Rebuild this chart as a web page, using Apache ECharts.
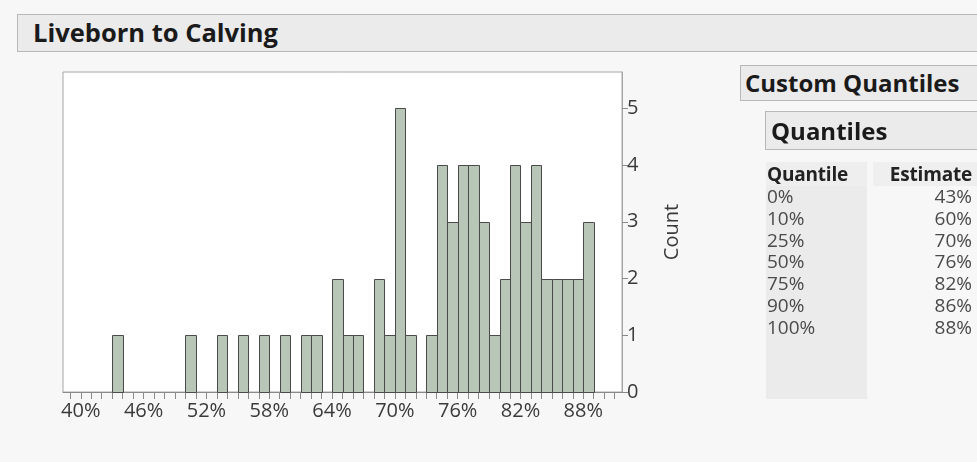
<!DOCTYPE html>
<html>
<head>
<meta charset="utf-8">
<script src="https://cdn.jsdelivr.net/npm/echarts@6/dist/echarts.min.js"></script>
<style>
  html, body { margin: 0; padding: 0; }
  body { width: 977px; height: 462px; background: #f7f7f7; position: relative; overflow: hidden;
         font-family: "Open Sans", "Noto Sans", sans-serif; color: #1a1a1a; }
  .bar-head { position: absolute; background: #ebebeb; border: 1px solid #b8b8b8; box-sizing: border-box;
              font-weight: 700; font-size: 24px; line-height: 1; display: flex; align-items: center; padding-left: 6px; }
  #chart { position: absolute; left: 0; top: 0; width: 977px; height: 462px; }
  #qtable { position: absolute; left: 766px; top: 162px; border-collapse: collapse; font-size: 19px; }
  #qtable th { font-weight: 700; text-align: left; height: 24px; line-height: 24px; padding: 0 0 0 1px; color: #222;
               letter-spacing: -0.2px; }
  #qtable td { height: 21.8px; line-height: 21.8px; padding: 0 0 0 1px; color: #4a4a4a; }
  #qtable .c1 { width: 102px; background: #ebebeb; }
  #qtable .gap { width: 6px; padding: 0; background: transparent; }
  #qtable .c2 { width: 100px; text-align: right; padding-right: 5px; }
  #qtable th.c1 { background: #eeeeee; }
  #qtable th.c2 { text-align: right; background: #efefef; }
  #qtable td.c2 { background: transparent; }
</style>
</head>
<body>
<div class="bar-head" id="title" style="left:17px;top:14px;width:980px;height:38px;padding-left:15px;font-size:25.5px;"></div>
<div id="chart"></div>
<div class="bar-head" id="custom" style="left:740px;top:65px;width:260px;height:36px;padding-left:4px;"></div>
<div class="bar-head" id="quant" style="left:765px;top:111px;width:240px;height:39px;padding-left:5px;"></div>
<table id="qtable"></table>
<script>
// Histogram of liveborn-to-calving rates, one-percent bins
const binStarts = [43, 44, 45, 46, 47, 48, 49, 50, 51, 52, 53, 54, 55, 56, 57, 58, 59, 60, 61, 62, 63,
                   64, 65, 66, 67, 68, 69, 70, 71, 72, 73, 74, 75, 76, 77, 78, 79, 80, 81, 82, 83, 84,
                   85, 86, 87, 88];
const counts    = [1, 0, 0, 0, 0, 0, 0, 1, 0, 0, 1, 0, 1, 0, 1, 0, 1, 0, 1, 1, 0,
                   2, 1, 1, 0, 2, 1, 5, 1, 0, 1, 4, 3, 4, 4, 3, 1, 2, 4, 3, 4, 2,
                   2, 2, 2, 3];
const binWidth = 1;

const xTickLabels = [40, 46, 52, 58, 64, 70, 76, 82, 88];
const xMinorTicks = [39, 40, 41, 42, 43, 44, 45, 46, 47, 48, 49, 50, 51, 52, 53, 54, 55, 56, 57, 58, 59,
                     60, 61, 62, 63, 64, 65, 66, 67, 68, 69, 70, 71, 72, 73, 74, 75, 76, 77, 78, 79, 80,
                     81, 82, 83, 84, 85, 86, 87, 88, 89, 90, 91];
const yTickLabels = [0, 1, 2, 3, 4, 5];

// Quantile summary table
const quantileLevels = ["0%", "10%", "25%", "50%", "75%", "90%", "100%"];
const quantileEstimates = ["43%", "60%", "70%", "76%", "82%", "86%", "88%"];

document.getElementById('title').textContent = 'Liveborn to Calving';
document.getElementById('custom').textContent = 'Custom Quantiles';
document.getElementById('quant').textContent = 'Quantiles';

const tbl = document.getElementById('qtable');
let html = '<tr><th class="c1">Quantile</th><th class="gap"></th><th class="c2">Estimate</th></tr>';
quantileLevels.forEach((q, i) => {
  html += '<tr><td class="c1">' + q + '</td><td class="gap"></td><td class="c2">' + quantileEstimates[i] + '</td></tr>';
});
html += '<tr><td class="c1" style="height:60px"></td><td class="gap"></td><td class="c2" style="height:60px"></td></tr>';
tbl.innerHTML = html;

const bins = binStarts.map((s, i) => [s, s + binWidth, counts[i]]).filter(d => d[2] > 0);

const chart = echarts.init(document.getElementById('chart'), null, { renderer: 'canvas' });
const labelFont = { fontFamily: 'Open Sans', fontSize: 20, color: '#3a3a3a' };

chart.setOption({
  animation: false,
  grid: {
    left: 63, top: 72, width: 559, height: 320,
    show: true, backgroundColor: '#ffffff', borderColor: '#a6a6a6', borderWidth: 1
  },
  xAxis: {
    type: 'value', min: 38.3, max: 91.7,
    splitLine: { show: false },
    axisLine: { show: true, lineStyle: { color: '#8a8a8a', width: 1 } },
    axisTick: { show: true, length: 7, customValues: xMinorTicks, lineStyle: { color: '#8a8a8a' } },
    axisLabel: Object.assign({ customValues: xTickLabels, margin: 9, formatter: v => v + '%' }, labelFont)
  },
  yAxis: {
    type: 'value', position: 'right', min: 0, max: 5.64,
    name: 'Count', nameLocation: 'middle', nameGap: 40, nameRotate: 90,
    nameTextStyle: { fontFamily: 'Open Sans', fontSize: 20, color: '#3a3a3a' },
    splitLine: { show: false },
    axisLine: { show: true, lineStyle: { color: '#a6a6a6', width: 1 } },
    axisTick: { show: true, length: 6, customValues: yTickLabels, lineStyle: { color: '#8a8a8a' } },
    axisLabel: Object.assign({ customValues: yTickLabels, margin: 5 }, labelFont)
  },
  series: [{
    type: 'custom',
    data: bins,
    encode: { x: [0, 1], y: 2 },
    renderItem: function (params, api) {
      const p0 = api.coord([api.value(0), 0]);
      const p1 = api.coord([api.value(1), api.value(2)]);
      return {
        type: 'rect',
        shape: { x: Math.round(p0[0]) + 0.5, y: Math.round(p1[1]) + 0.5,
                 width: Math.round(p1[0]) - Math.round(p0[0]), height: Math.round(p0[1]) - Math.round(p1[1]) },
        style: { fill: '#b7c6b6', stroke: '#4a4a4a', lineWidth: 1 }
      };
    }
  }]
});
</script>
</body>
</html>
